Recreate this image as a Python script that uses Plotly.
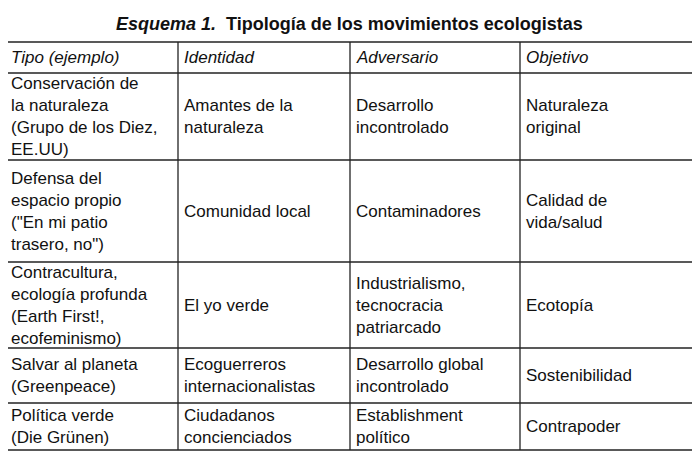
import plotly.graph_objects as go

TITLE = "<b><i>Esquema 1.</i>  Tipología de los movimientos ecologistas</b>"
HEADERS = ["Tipo (ejemplo)", "Identidad", "Adversario", "Objetivo"]
TIPO = ["Conservación de<br>la naturaleza<br>(Grupo de los Diez,<br>EE.UU)",
        "Defensa del<br>espacio propio<br>(\"En mi patio<br>trasero, no\")",
        "Contracultura,<br>ecología profunda<br>(Earth First!,<br>ecofeminismo)",
        "Salvar al planeta<br>(Greenpeace)",
        "Política verde<br>(Die Grünen)"]
IDENTIDAD = ["Amantes de la<br>naturaleza", "Comunidad local", "El yo verde",
             "Ecoguerreros<br>internacionalistas", "Ciudadanos<br>concienciados"]
ADVERSARIO = ["Desarrollo<br>incontrolado", "Contaminadores",
              "Industrialismo,<br>tecnocracia<br>patriarcado",
              "Desarrollo global<br>incontrolado", "Establishment<br>político"]
OBJETIVO = ["Naturaleza<br>original", "Calidad de<br>vida/salud", "Ecotopía",
            "Sostenibilidad", "Contrapoder"]

# grid geometry in window pixels (page body has an 8px margin)
COL_EDGES = [5, 178, 350, 520, 693]
ROW_EDGES = [5, 42, 73, 160, 262, 348, 403, 450]
PAD = 8

FONT = dict(family="Liberation Sans, Arial", size=17, color="#111")

fig = go.Figure()
fig.add_trace(go.Scatter(x=[PAD, 700 + PAD], y=[PAD, 455 + PAD], mode="markers",
                         marker=dict(opacity=0), hoverinfo="skip", showlegend=False))

x0, x1 = COL_EDGES[0], COL_EDGES[-1]
for y in ROW_EDGES:
    fig.add_shape(type="line", x0=x0, x1=x1, y0=y, y1=y, line=dict(color="#222", width=1.3))
for i, x in enumerate(COL_EDGES):
    top = ROW_EDGES[0] if i in (0, len(COL_EDGES) - 1) else ROW_EDGES[1]
    fig.add_shape(type="line", x0=x, x1=x, y0=top, y1=ROW_EDGES[-1],
                  line=dict(color="#222", width=1.3))

fig.add_annotation(x=(x0 + x1) / 2, y=(ROW_EDGES[0] + ROW_EDGES[1]) / 2, text=TITLE,
                   showarrow=False, font=dict(FONT, size=18), xanchor="center", yanchor="middle")

for c, h in enumerate(HEADERS):
    fig.add_annotation(x=COL_EDGES[c] + 4, y=(ROW_EDGES[1] + ROW_EDGES[2]) / 2,
                       text=f"<i>{h}</i>", showarrow=False, font=FONT,
                       xanchor="left", yanchor="middle", align="left")

for r, row in enumerate(zip(TIPO, IDENTIDAD, ADVERSARIO, OBJETIVO)):
    yc = (ROW_EDGES[r + 2] + ROW_EDGES[r + 3]) / 2
    for c, txt in enumerate(row):
        fig.add_annotation(x=COL_EDGES[c] + 4, y=yc, text=txt, showarrow=False, font=FONT,
                           xanchor="left", yanchor="middle", align="left")

fig.update_xaxes(visible=False, range=[PAD, 700 + PAD])
fig.update_yaxes(visible=False, range=[455 + PAD, PAD])
fig.update_layout(width=700, height=455, margin=dict(l=0, r=0, t=0, b=0),
                  plot_bgcolor="white", paper_bgcolor="white")
fig.write_html("out.html")
